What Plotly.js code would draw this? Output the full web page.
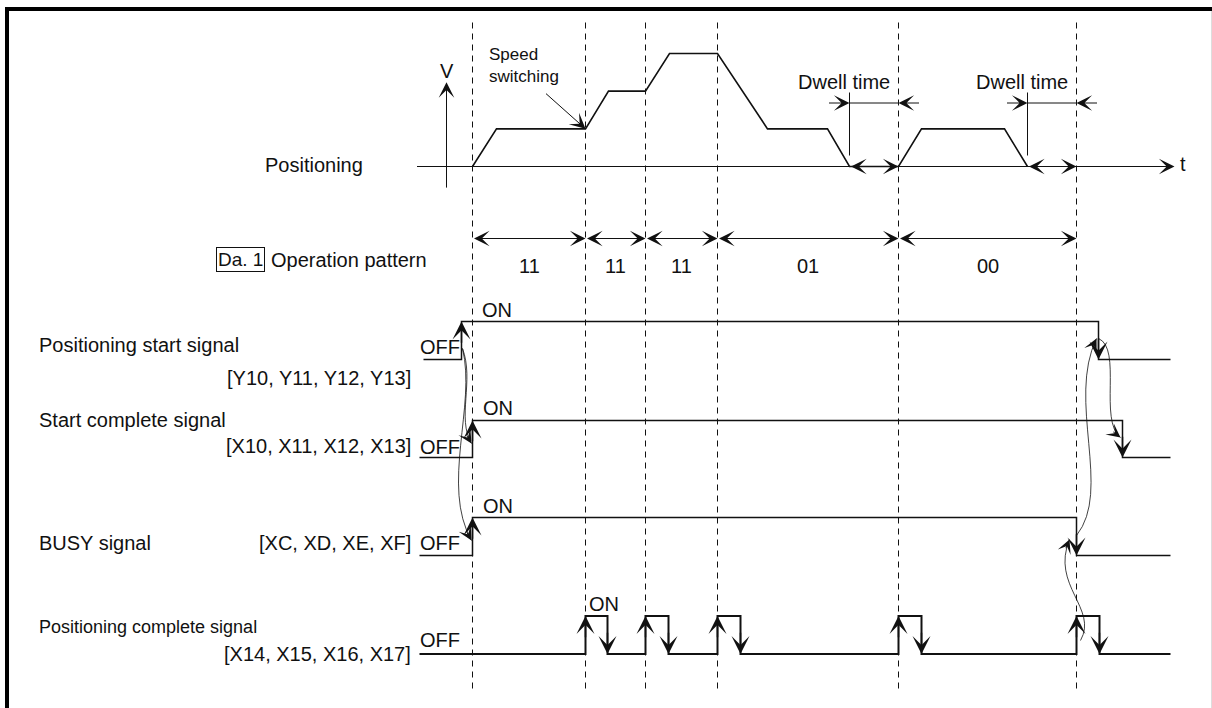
<!DOCTYPE html>
<html><head><meta charset="utf-8">
<script src="https://cdn.plot.ly/plotly-3.0.1.min.js"></script>
<style>html,body{margin:0;padding:0;background:#fff}#chart{width:1212px;height:708px}</style>
</head><body><div id="chart"></div>
<script>
// ---- data (time axis units) ----
const phaseTimes = [472, 585, 645, 717, 898, 1076];          // dashed boundaries
const patternLabels = ['11', '11', '11', '01', '00'];         // Da.1 operation pattern
const velTime  = [472, 496, 585, 608, 645, 669, 717, 767, 827, 849, 898, 921, 1004, 1027];
const velLevel = [0,   1,   1,   2,   2,   3,   3,   1,   1,   0,   0,   1,   1,    0];
const dwellStart = [849, 1027];
const dwellEnd   = [898, 1076];
const timeAxisStart = 415, timeAxisEnd = 1174;
const signalNames   = ['Positioning start signal', 'Start complete signal', 'BUSY signal', 'Positioning complete signal'];
const signalDevices = ['[Y10, Y11, Y12, Y13]', '[X10, X11, X12, X13]', '[XC, XD, XE, XF]', '[X14, X15, X16, X17]'];
const signalFrom = [423, 419, 419, 419];
const signalTo   = [1170, 1170, 1170, 1170];
const signalOn   = [461, 472, 472];
const signalOff  = [1098, 1122, 1076];
const pulseRise  = [585, 645, 717, 898, 1076];
const pulseFall  = [607, 668, 740, 921, 1099];

// ---- layout helpers ----
const H = 708;
const FONT = 'Liberation Sans, Arial, Helvetica, sans-serif';
const INK = '#111';
const hidden = {visible: false, fixedrange: true, showgrid: false, zeroline: false};
// axis whose value lo sits at pixel loPx and hi at hiPx, padded so lines are not clipped
function bandAxis(lo, hi, loPx, hiPx) {
  const pad = 0.3 * (hi - lo), ppu = (loPx - hiPx) / (hi - lo);
  const bottom = loPx + pad * ppu, top = hiPx - pad * ppu;
  return Object.assign({range: [lo - pad, hi + pad], domain: [1 - bottom / H, 1 - top / H], anchor: 'x'}, hidden);
}

function stepSeries(from, ons, offs, to) {
  const x = [from], y = [0];
  ons.forEach((t, i) => { x.push(t, t, offs[i], offs[i]); y.push(0, 1, 1, 0); });
  x.push(to); y.push(0);
  return {x, y};
}

const traces = [];
traces.push({x: velTime, y: velLevel, xaxis: 'x', yaxis: 'y2', mode: 'lines',
  line: {color: INK, width: 1.6}, hoverinfo: 'skip'});
const sigAxes = ['y3', 'y4', 'y5', 'y6'];
for (let i = 0; i < 3; i++) {
  const s = stepSeries(signalFrom[i], [signalOn[i]], [signalOff[i]], signalTo[i]);
  traces.push({x: s.x, y: s.y, xaxis: 'x', yaxis: sigAxes[i], mode: 'lines',
    line: {color: INK, width: 1.5}, hoverinfo: 'skip'});
}
const pc = stepSeries(signalFrom[3], pulseRise, pulseFall, signalTo[3]);
traces.push({x: pc.x, y: pc.y, xaxis: 'x', yaxis: 'y6', mode: 'lines',
  line: {color: INK, width: 2}, hoverinfo: 'skip'});

// ---- annotations ----
const ann = [];
function arrow(x, y, ax, ay, yref, side, w) {
  const sz = w ? 2.0 : 2.6;
  return {x, y, ax, ay, xref: 'x', yref, axref: 'x', ayref: yref, text: '', showarrow: true,
    arrowhead: 3, arrowsize: sz, arrowwidth: w || 1, arrowcolor: INK, standoff: 0, startstandoff: 0,
    startarrowhead: 3, startarrowsize: sz, arrowside: side || 'end'};
}
function arrowPx(x, y, dx, dy, yref) {
  return {x, y, ax: dx, ay: dy, xref: 'x', yref, axref: 'pixel', ayref: 'pixel', text: '', showarrow: true,
    arrowhead: 3, arrowsize: 2.3, arrowwidth: 1, arrowcolor: INK, standoff: 0};
}
function txt(text, x, y, xanchor, size, extra) {
  return Object.assign({x, y, xref: 'x', yref: 'y', text, showarrow: false, xanchor, yanchor: 'middle',
    font: {family: FONT, size: size || 20, color: INK}}, extra || {});
}

// velocity axes
ann.push(arrow(timeAxisEnd, 0, timeAxisStart, 0, 'y2'));
ann.push(arrow(446, 2.24, 446, -0.6, 'y2'));
ann.push(txt('V', 446, 70, 'center'));
ann.push(txt('t', 1177, 163, 'left'));
ann.push(txt('Positioning', 313, 164, 'center'));
ann.push(txt('Speed<br>switching', 486, 65, 'left', 17, {align: 'left'}));
ann.push(arrow(585, 1, 544, 1.97, 'y2'));
// dwell time
dwellStart.forEach((t, i) => {
  ann.push(arrow(dwellEnd[i], 0, t, 0, 'y2', 'end+start'));
  ann.push(arrow(t, 102.5, t - 22, 102.5, 'y'));
  ann.push(arrow(dwellEnd[i], 102.5, dwellEnd[i] + 22, 102.5, 'y'));
  ann.push(txt('Dwell time', (t + dwellEnd[i]) / 2 - 30, 81, 'center'));
});
// operation pattern
for (let i = 0; i < patternLabels.length; i++) {
  ann.push(arrow(phaseTimes[i + 1], 238, phaseTimes[i], 238, 'y', 'end+start'));
  ann.push(txt(patternLabels[i], (phaseTimes[i] + phaseTimes[i + 1]) / 2, 265, 'center'));
}
ann.push(txt('Da. 1', 240, 259, 'center', 19, {bordercolor: INK, borderwidth: 1, borderpad: 1}));
ann.push(txt('Operation pattern', 268.5, 259, 'left'));

// signal labels
const nameY = [344, 419, 542, 626];
const devY = [377, 445, 542, 653];
const offY = [346, 446, 542, 639];
const onY = [309, 407, 505, 603];
const onX = [479, 480, 480, 586];
for (let i = 0; i < 4; i++) {
  ann.push(txt(signalNames[i], 36.5, nameY[i], 'left', i === 3 ? 18 : 20));
  ann.push(txt(signalDevices[i], 412.5, devY[i], 'right'));
  ann.push(txt('OFF', 417.5, offY[i], 'left'));
  ann.push(txt('ON', onX[i], onY[i], 'left'));
}
// edge arrows
for (let i = 0; i < 3; i++) {
  ann.push(arrow(signalOn[i], 1, signalOn[i], 0.4, sigAxes[i], 'end', 1.5));
  ann.push(arrow(signalOff[i], 0, signalOff[i], 0.6, sigAxes[i], 'end', 1.5));
}
pulseRise.forEach((t, i) => {
  ann.push(arrow(t, 1, t, 0.4, 'y6', 'end', 1.5));
  ann.push(arrow(pulseFall[i], 0, pulseFall[i], 0.6, 'y6', 'end', 1.5));
});

// causal curves (pixel frame)
const curves = [
  [[462, 348], [474, 380], [456, 418], [471, 443]],
  [[462, 348], [476, 405], [440, 485], [471, 540]],
  [[1076, 535], [1112, 490], [1066, 400], [1096, 338]],
  [[1098, 338], [1122, 348], [1098, 420], [1120, 437]],
  [[1080, 640], [1098, 608], [1050, 585], [1069, 539]]
];
const shapes = [];
curves.forEach(c => {
  shapes.push({type: 'path', xref: 'x', yref: 'y',
    path: `M${c[0][0]},${c[0][1]} C${c[1][0]},${c[1][1]} ${c[2][0]},${c[2][1]} ${c[3][0]},${c[3][1]}`,
    line: {color: INK, width: 0.8}});
  const dx = c[3][0] - c[2][0], dy = c[3][1] - c[2][1], L = Math.hypot(dx, dy);
  ann.push(arrowPx(c[3][0], c[3][1], -dx / L * 11, -dy / L * 11, 'y'));
});

// dashed boundaries
phaseTimes.forEach(t => shapes.push({type: 'line', xref: 'x', yref: 'y', x0: t, x1: t, y0: 22, y1: 693,
  line: {color: '#111', width: 1, dash: '6px,5px'}, layer: 'below'}));
// dwell extension lines
dwellStart.forEach((t, i) => {
  shapes.push({type: 'line', xref: 'x', yref: 'y', x0: t, x1: t, y0: 92, y1: 155, line: {color: INK, width: 1}});
  shapes.push({type: 'line', xref: 'x', yref: 'y', x0: t, x1: dwellEnd[i], y0: 102.5, y1: 102.5, line: {color: INK, width: 1}});
});
// frame
shapes.push({type: 'line', xref: 'paper', yref: 'paper', x0: 5 / 1212, x1: 1, y0: 1 - 9 / H, y1: 1 - 9 / H, line: {color: '#000', width: 4}});
shapes.push({type: 'line', xref: 'paper', yref: 'paper', x0: 7 / 1212, x1: 7 / 1212, y0: 0, y1: 1 - 7 / H, line: {color: '#000', width: 4}});
shapes.push({type: 'line', xref: 'paper', yref: 'paper', x0: 1211.5 / 1212, x1: 1211.5 / 1212, y0: 0, y1: 1 - 11 / H, line: {color: '#ddd', width: 1}});

const layout = {
  width: 1212, height: 708, margin: {l: 0, r: 0, t: 0, b: 0},
  paper_bgcolor: '#fff', plot_bgcolor: 'rgba(0,0,0,0)', showlegend: false,
  xaxis: Object.assign({range: [-0.5, 1211.5], domain: [0, 1]}, hidden),
  yaxis: Object.assign({range: [707.5, -0.5], domain: [0, 1]}, hidden),
  yaxis2: bandAxis(0, 3, 166.5, 53.5),
  yaxis3: bandAxis(0, 1, 359.5, 321.5),
  yaxis4: bandAxis(0, 1, 457.5, 420.5),
  yaxis5: bandAxis(0, 1, 555.5, 517.5),
  yaxis6: bandAxis(0, 1, 654, 616),
  annotations: ann, shapes: shapes
};
Plotly.newPlot('chart', traces, layout, {staticPlot: true, displayModeBar: false});
</script></body></html>
